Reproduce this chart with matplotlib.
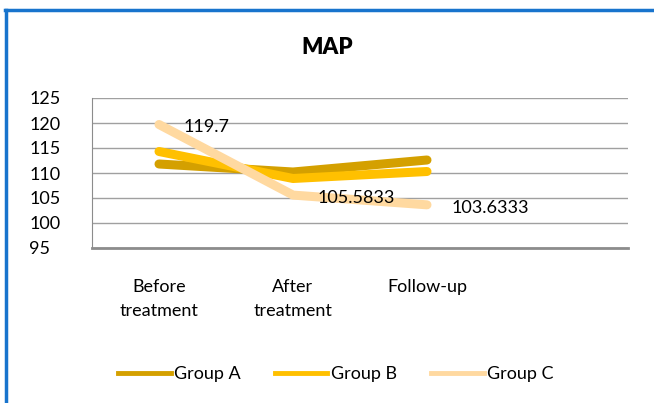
import matplotlib.pyplot as plt
from matplotlib.lines import Line2D

categories = ["Before\ntreatment", "After\ntreatment", "Follow-up", ""]
group_a = [111.8, 110.2, 112.6]
group_b = [114.3, 108.9, 110.3]
group_c = [119.7, 105.5833, 103.6333]
c_labels = ["119.7", "105.5833", "103.6333"]

colors = ["#D4A000", "#FFC000", "#FFD9A0"]

plt.rcParams['font.family'] = ['Lato', 'DejaVu Sans']
fs = 13

fig = plt.figure(figsize=(6.54, 4.03), dpi=100)
ax = fig.add_axes([92 / 654, 1 - 248 / 403, 536 / 654, 150 / 403])

x = list(range(len(categories)))
for vals, col, name in zip([group_a, group_b, group_c], colors, ["Group A", "Group B", "Group C"]):
    ax.plot(x[:3], vals, color=col, lw=6.5, solid_capstyle='round', solid_joinstyle='round', label=name)

for xi, v, t in zip(x[:3], group_c, c_labels):
    ax.annotate(t, (xi, v), xytext=(18, -2), textcoords='offset points',
                fontsize=fs, va='center', ha='left')

ax.set_xlim(-0.5, 3.5)
ax.set_ylim(95, 125)
ax.set_yticks(range(95, 126, 5))
ax.set_xticks(x)
ax.set_xticklabels(categories, fontsize=fs, va='top', linespacing=1.65)
ax.tick_params(axis='both', length=0, labelsize=fs)
ax.tick_params(axis='x', pad=22)
for lbl in ax.get_yticklabels():
    lbl.set_horizontalalignment('left')
    lbl.set_x(-0.117)
ax.tick_params(axis='y', pad=0)
ax.grid(axis='y', color='#a0a0a0', lw=1)
ax.set_axisbelow(True)
for s in ['top', 'right']:
    ax.spines[s].set_visible(False)
ax.spines['left'].set_color('#8c8c8c')
ax.spines['bottom'].set_color('#8c8c8c')
ax.spines['bottom'].set_linewidth(2)

fig.text(0.5, 1 - 48 / 403, "MAP", ha='center', va='center', fontsize=16, fontweight='heavy')

handles = [Line2D([0], [0], color=c, lw=3.5) for c in colors]
fig.legend(handles, ["Group A", "Group B", "Group C"], loc='center',
           bbox_to_anchor=(336 / 654, 1 - 374 / 403), ncol=3, frameon=False,
           fontsize=fs, handlelength=2.9, handletextpad=0.2, columnspacing=1.9)

fig.add_artist(Line2D([6 / 654, 6 / 654], [0, 1 - 10 / 403], color='#1874CD', lw=2.5, transform=fig.transFigure))
fig.add_artist(Line2D([5 / 654, 1], [1 - 10 / 403, 1 - 10 / 403], color='#1874CD', lw=2.5, transform=fig.transFigure))

fig.savefig("out.png", dpi=100)
